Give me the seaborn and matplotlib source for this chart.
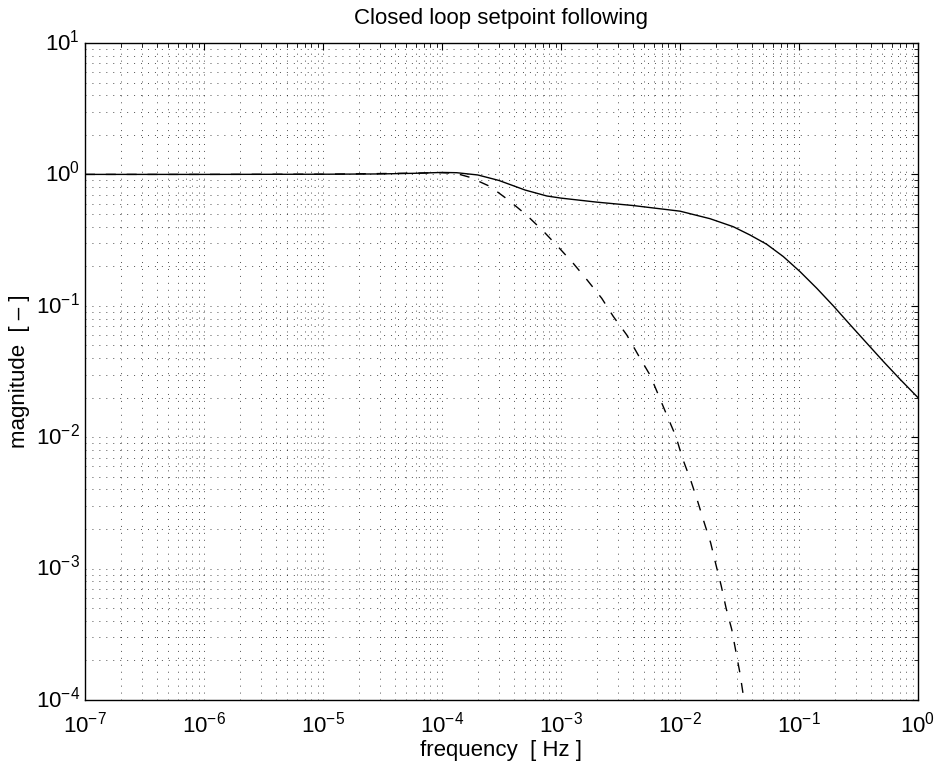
import matplotlib
matplotlib.use("Agg")
import matplotlib.pyplot as plt
import matplotlib.ticker as mticker
import matplotlib.transforms as mtransforms
import seaborn as sns
import pandas as pd

# Closed-loop magnitude response, solid curve
freq_solid = [1e-7, 1e-6, 1e-5, 3e-5, 6e-5, 1e-4, 1.33e-4, 2e-4, 3e-4, 5e-4,
              7.6e-4, 1e-3, 2e-3, 4e-3, 1e-2, 1.79e-2, 2.8e-2, 3.87e-2,
              5.35e-2, 7.38e-2, 0.102, 0.141, 0.194, 0.268, 0.371, 0.513,
              0.707, 1.0]
mag_solid = [1.0, 1.0, 1.003, 1.008, 1.02, 1.035, 1.03, 0.99, 0.90, 0.76,
             0.685, 0.66, 0.615, 0.58, 0.525, 0.46, 0.40, 0.346,
             0.294, 0.237, 0.182, 0.136, 0.100, 0.072, 0.052, 0.0376,
             0.0276, 0.02]

# Closed-loop magnitude response, dashed curve
freq_dashed = [1e-7, 1e-6, 1e-5, 5e-5, 1e-4, 1.3e-4, 1.72e-4, 2.53e-4,
               3.6e-4, 5.14e-4, 7.1e-4, 9.5e-4, 1.27e-3, 1.66e-3, 2.2e-3,
               2.75e-3, 3.57e-3, 4.47e-3, 5.6e-3, 6.58e-3, 7.73e-3, 9.25e-3,
               1.05e-2, 1.23e-2, 1.4e-2, 1.59e-2, 1.81e-2, 2.01e-2, 2.22e-2,
               2.44e-2, 2.72e-2, 2.94e-2, 3.19e-2, 3.45e-2]
mag_dashed = [1.0, 1.0, 1.003, 1.02, 1.03, 1.02, 0.95, 0.81,
              0.64, 0.49, 0.37, 0.28, 0.21, 0.157, 0.114,
              0.083, 0.060, 0.042, 0.0297, 0.021, 0.0148, 0.0101,
              0.0069, 0.0047, 0.0033, 0.00227, 0.00157, 0.00106, 0.00074,
              0.0005, 0.000345, 0.000237, 0.00016, 0.0001]

x_decades = [-7, -6, -5, -4, -3, -2, -1, 0]
y_decades = [-4, -3, -2, -1, 0, 1]

title = "Closed loop setpoint following"
xlabel = "frequency  [ Hz ]"
ylabel = "magnitude  [ \u2013 ]"

sns.set_style("white")
plt.rcParams["font.family"] = ["Liberation Sans", "DejaVu Sans"]
plt.rcParams["mathtext.fontset"] = "custom"
plt.rcParams["mathtext.rm"] = "Liberation Sans"
plt.rcParams["mathtext.it"] = "Liberation Sans"
plt.rcParams["mathtext.default"] = "regular"
plt.rcParams["lines.scale_dashes"] = False
plt.rcParams["text.color"] = "black"
plt.rcParams["axes.labelcolor"] = "black"

fig = plt.figure(figsize=(9.4, 7.71), dpi=100)
ax = fig.add_axes([85 / 940, 1 - 700 / 771, (918 - 85) / 940, (700 - 43) / 771])

df_solid = pd.DataFrame({"f": freq_solid, "m": mag_solid})
df_dashed = pd.DataFrame({"f": freq_dashed, "m": mag_dashed})

sns.lineplot(data=df_solid, x="f", y="m", ax=ax, color="black", lw=1.0,
             estimator=None, sort=True)
sns.lineplot(data=df_dashed, x="f", y="m", ax=ax, color="black", lw=1.0,
             estimator=None, sort=True)
ax.lines[-1].set_dashes((7.2, 7.8))

ax.set_xscale("log")
ax.set_yscale("log")
ax.set_xlim(1e-7, 1.0)
ax.set_ylim(1e-4, 1e1)


def decade_ticks(decades):
    major = [10.0 ** d for d in decades]
    minor = [k * 10.0 ** d for d in decades[:-1] for k in range(2, 10)]
    return major, minor


xmaj, xmin = decade_ticks(x_decades)
ymaj, ymin = decade_ticks(y_decades)
ax.xaxis.set_major_locator(mticker.FixedLocator(xmaj))
ax.xaxis.set_minor_locator(mticker.FixedLocator(xmin))
ax.yaxis.set_major_locator(mticker.FixedLocator(ymaj))
ax.yaxis.set_minor_locator(mticker.FixedLocator(ymin))
ax.xaxis.set_major_formatter(mticker.LogFormatterSciNotation())
ax.yaxis.set_major_formatter(mticker.LogFormatterSciNotation())
ax.xaxis.set_minor_formatter(mticker.NullFormatter())
ax.yaxis.set_minor_formatter(mticker.NullFormatter())

grid_kw = dict(color="black", lw=0.6, linestyle=(0, (0.7, 4.3)), alpha=0.8)
ax.grid(True, which="major", **grid_kw)
ax.grid(True, which="minor", **grid_kw)
ax.set_axisbelow(True)

ax.tick_params(which="both", direction="in", top=True, right=True,
               colors="black", labelsize=16)
ax.tick_params(which="major", length=5, width=0.8)
ax.tick_params(which="minor", length=3, width=0.6)
ax.tick_params(axis="x", which="major", pad=8)
ax.tick_params(axis="y", which="major", pad=3.6)
for s in ax.spines.values():
    s.set_color("black")
    s.set_linewidth(1.0)

ax.set_title(title, fontsize=16, pad=14, color="black")
ax.set_xlabel(xlabel, fontsize=16, labelpad=2, color="black")
ax.set_ylabel(ylabel, fontsize=16, labelpad=4, color="black")

# center the mantissa of each y label on its tick, exponent sitting above
fig.canvas.draw()
lift = mtransforms.ScaledTranslation(0, 2.2 / 72, fig.dpi_scale_trans)
for lab in ax.get_yticklabels():
    lab.set_transform(lab.get_transform() + lift)

fig.savefig("out.png", dpi=100, facecolor="white")
